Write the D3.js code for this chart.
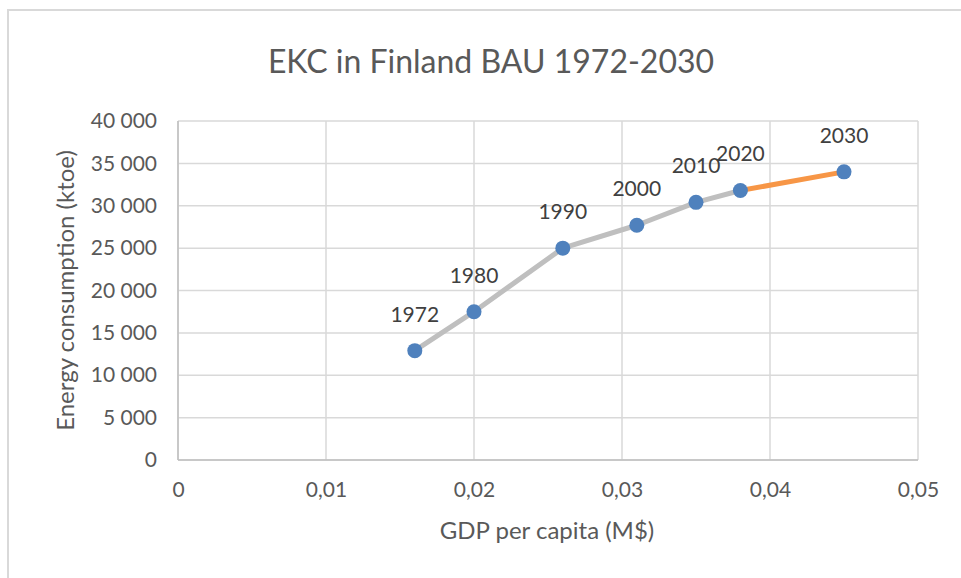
<!DOCTYPE html>
<html>
<head>
<meta charset="utf-8">
<script src="https://cdn.jsdelivr.net/npm/d3@7"></script>
<style>
  body { margin: 0; background: #fff; }
  text { font-family: Lato, "Open Sans", sans-serif; }
</style>
</head>
<body>
<svg id="chart" width="961" height="578"></svg>
<script>
// data
var years = ["1972", "1980", "1990", "2000", "2010", "2020", "2030"];
var gdp = [0.016, 0.020, 0.026, 0.031, 0.035, 0.038, 0.045];
var energy = [12900, 17500, 25000, 27700, 30400, 31800, 34000];
var xTicks = [0, 0.01, 0.02, 0.03, 0.04, 0.05];
var yTicks = [0, 5000, 10000, 15000, 20000, 25000, 30000, 35000, 40000];
var histEnd = 5; // index of 2020, orange segment after it

var svg = d3.select("#chart");

// chart frame
svg.append("rect")
    .attr("x", 8).attr("y", 10)
    .attr("width", 980).attr("height", 600)
    .style("fill", "none")
    .style("stroke", "#d9d9d9")
    .style("stroke-width", 2);

var pLeft = 178, pRight = 918, pTop = 121, pBottom = 460;

var x = d3.scaleLinear().domain([0, 0.05]).range([pLeft, pRight]);
var y = d3.scaleLinear().domain([0, 40000]).range([pBottom, pTop]);

var fmtX = function (d) { return d === 0 ? "0" : d3.format(".2f")(d).replace(".", ","); };
var fmtY = function (d) { return d3.format(",")(d).replace(/,/g, " "); };

// gridlines
var g = svg.append("g");
g.selectAll(".hgrid").data(yTicks).enter().append("line")
    .attr("x1", pLeft).attr("x2", pRight)
    .attr("y1", function (d) { return y(d); })
    .attr("y2", function (d) { return y(d); })
    .style("stroke", "#d9d9d9").style("stroke-width", 1.5);
g.selectAll(".vgrid").data(xTicks).enter().append("line")
    .attr("y1", pTop).attr("y2", pBottom)
    .attr("x1", function (d) { return x(d); })
    .attr("x2", function (d) { return x(d); })
    .style("stroke", "#d9d9d9").style("stroke-width", 1.5);

// axes lines
g.append("line").attr("x1", pLeft).attr("x2", pRight).attr("y1", pBottom).attr("y2", pBottom)
    .style("stroke", "#bfbfbf").style("stroke-width", 1.5);
g.append("line").attr("x1", pLeft).attr("x2", pLeft).attr("y1", pTop).attr("y2", pBottom)
    .style("stroke", "#bfbfbf").style("stroke-width", 1.5);

// tick labels via d3 axes
var yAxis = svg.append("g")
    .attr("transform", "translate(" + pLeft + ",0)")
    .call(d3.axisLeft(y).tickValues(yTicks).tickFormat(fmtY).tickSize(0).tickPadding(21));
var xAxis = svg.append("g")
    .attr("transform", "translate(0," + pBottom + ")")
    .call(d3.axisBottom(x).tickValues(xTicks).tickFormat(fmtX).tickSize(0).tickPadding(22));
[xAxis, yAxis].forEach(function (a) {
    a.select(".domain").remove();
    a.selectAll("text").style("font-size", "21px").style("fill", "#595959")
        .style("font-family", "Lato, sans-serif");
});

// lines
var line = d3.line()
    .x(function (i) { return x(gdp[i]); })
    .y(function (i) { return y(energy[i]); });
var idx = d3.range(years.length);
svg.append("path")
    .attr("d", line(idx.slice(0, histEnd + 1)))
    .style("fill", "none").style("stroke", "#bfbfbf")
    .style("stroke-width", 5).style("stroke-linejoin", "round");
svg.append("path")
    .attr("d", line(idx.slice(histEnd)))
    .style("fill", "none").style("stroke", "#f79646")
    .style("stroke-width", 5).style("stroke-linejoin", "round");

// markers
svg.selectAll(".pt").data(idx).enter().append("circle")
    .attr("cx", function (i) { return x(gdp[i]); })
    .attr("cy", function (i) { return y(energy[i]); })
    .attr("r", 7.5)
    .style("fill", "#4f81bd");

// data labels
svg.selectAll(".lbl").data(idx).enter().append("text")
    .attr("x", function (i) { return x(gdp[i]); })
    .attr("y", function (i) { return y(energy[i]) - 29; })
    .attr("text-anchor", "middle")
    .style("font-size", "21px")
    .style("fill", "#404040")
    .text(function (i) { return years[i]; });

// titles
svg.append("text")
    .attr("x", 491).attr("y", 73)
    .attr("text-anchor", "middle")
    .style("font-size", "32px").style("fill", "#595959")
    .text("EKC in Finland BAU 1972-2030");

svg.append("text")
    .attr("x", 547).attr("y", 539)
    .attr("text-anchor", "middle")
    .style("font-size", "24px").style("fill", "#595959")
    .text("GDP per capita (M$)");

svg.append("text")
    .attr("transform", "translate(74," + ((pTop + pBottom) / 2) + ") rotate(-90)")
    .attr("text-anchor", "middle")
    .style("font-size", "24px").style("fill", "#595959")
    .text("Energy consumption (ktoe)");
</script>
</body>
</html>
